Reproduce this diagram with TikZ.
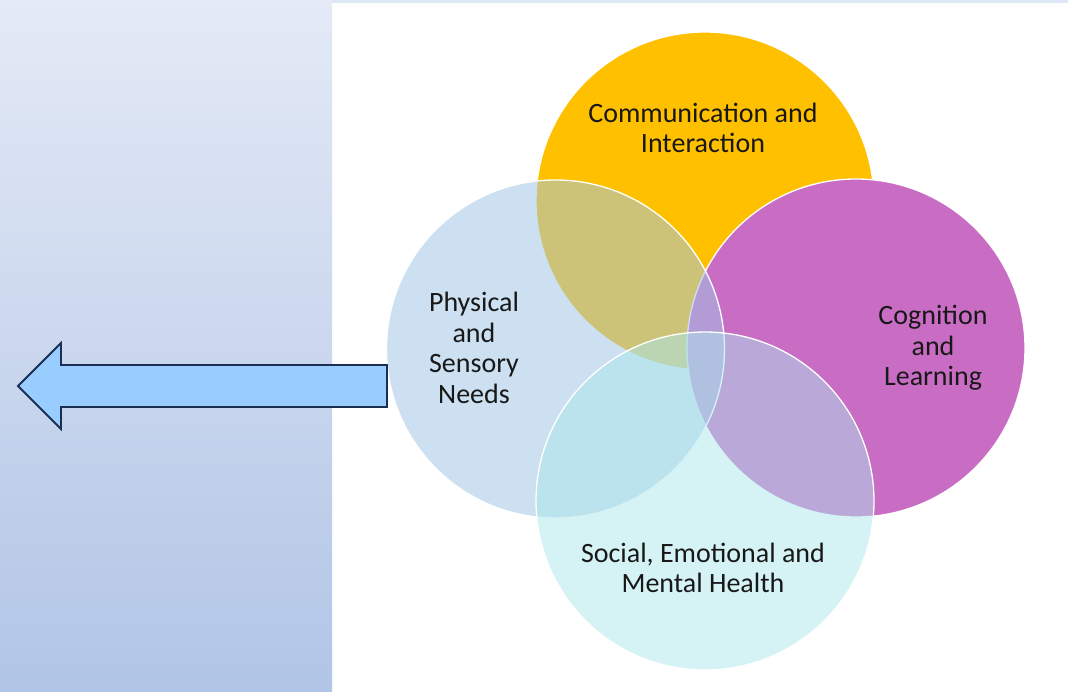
\documentclass[tikz,border=0pt]{standalone}
\usepackage{fontspec}
\setmainfont{Carlito}
\definecolor{panelTop}{RGB}{228,234,246}
\definecolor{panelBot}{RGB}{177,197,230}
\definecolor{stripC}{RGB}{222,231,245}
\definecolor{orangeC}{RGB}{255,192,0}
\definecolor{magentaC}{RGB}{201,108,196}
\definecolor{lblueC}{RGB}{160,198,230}
\definecolor{cyanC}{RGB}{172,230,236}
\definecolor{arrowFill}{RGB}{153,204,255}
\definecolor{arrowDraw}{RGB}{27,47,82}
\definecolor{txtC}{RGB}{24,24,24}
\tikzset{
  venn/.style={circle, minimum size=338pt, inner sep=0pt, draw=white, line width=1.3pt},
  lab/.style={align=center, text=txtC, font=\fontsize{28}{30.5}\selectfont, inner sep=0pt},
}
\begin{document}
\begin{tikzpicture}[x=1pt,y=-1pt]
\useasboundingbox (0,0) rectangle (1068,691);
% background
\fill[white] (0,0) rectangle (1068,691);
\shade[top color=panelTop, bottom color=panelBot] (0,0) rectangle (332,691);
\fill[stripC] (332,0) rectangle (1068,3);
% circles
\node[venn, fill=orangeC] (comm) at (705,201) {};
\node[venn, fill=magentaC] (cogn) at (856,348) {};
\node[venn, fill=lblueC, fill opacity=0.53] (phys) at (555.5,349) {};
\node[venn, fill=cyanC, fill opacity=0.5] (soc) at (705,501) {};
% labels
\node[lab] (tComm) at (703,128) {Communication and\\Interaction};
\node[lab] (tPhys) at (474,348) {Physical\\and\\Sensory\\Needs};
\node[lab] (tCogn) at (933,348) {Cognition\\and\\Learning};
\node[lab] (tSoc) at (703,568) {Social, Emotional and\\Mental Health};
% arrow
\draw[fill=arrowFill, draw=arrowDraw, line width=1.8pt, line join=miter]
  (387,365) -- (61,365) -- (61,343) -- (18,386) -- (61,429) -- (61,407) -- (387,407) -- cycle;
\end{tikzpicture}
\end{document}
